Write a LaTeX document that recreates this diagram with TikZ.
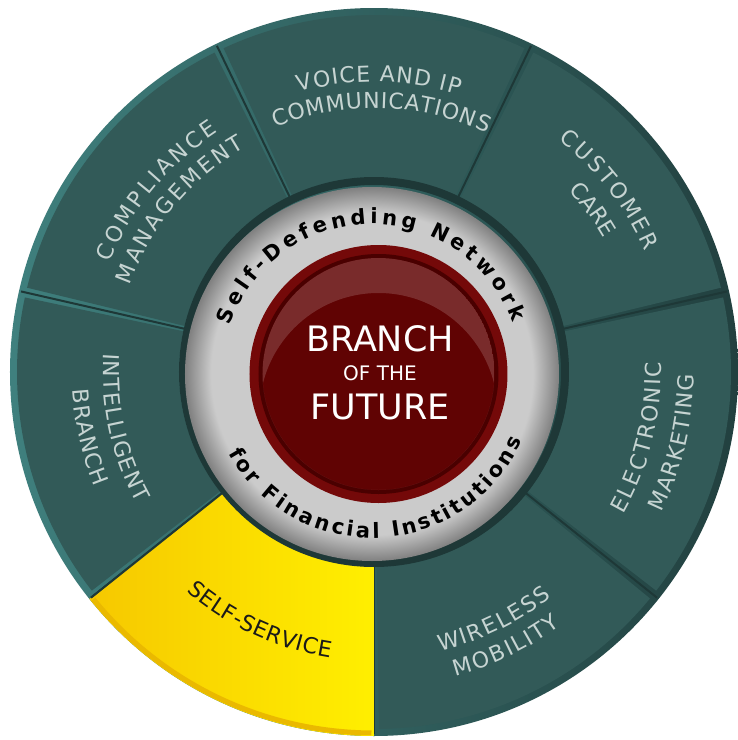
\documentclass[tikz,border=0pt]{standalone}
\usepackage{fontspec}
\setmainfont{DejaVu Sans}
\usetikzlibrary{positioning,decorations.text}

\definecolor{rimlight}{HTML}{3F807E}
\definecolor{rimdark}{HTML}{22403F}
\definecolor{segteal}{HTML}{325A58}
\definecolor{gapteal}{HTML}{1E3837}
\definecolor{labelgrey}{HTML}{C6D4D2}
\definecolor{ringgrey}{HTML}{CBCBCB}
\definecolor{ringedge}{HTML}{808080}
\definecolor{hubrim}{HTML}{740909}
\definecolor{hubdark}{HTML}{4A0000}
\definecolor{hubred}{HTML}{600303}
\definecolor{yelleft}{HTML}{F6C800}
\definecolor{yelright}{HTML}{FFEF00}
\definecolor{yelrim}{HTML}{EAB900}
\definecolor{selfink}{HTML}{1A1A1A}

\pgfdeclareradialshading{greyring}{\pgfpoint{0bp}{0bp}}{color(0bp)=(ringgrey); color(21.5bp)=(ringgrey); color(25bp)=(ringedge); color(50bp)=(ringedge)}

\begin{document}
\begin{tikzpicture}[x=1pt,y=1pt,
	seglabel/.style={decorate, decoration={text along path, text align={fit to path}, text color=labelgrey, text={|\fontsize{22}{26}\selectfont|#1}}},
	ringlabel/.style={decorate, decoration={text along path, text align={fit to path}, text color=black, text={|\fontsize{21}{25}\selectfont\bfseries|#1}}},
	hubtext/.style={text=white, inner sep=0pt}]
	
	\useasboundingbox (-374,-368) rectangle (364,372);
	
	% aussenrand
	\shade[left color=rimlight, right color=rimdark] (0,0) circle (364);
	
	% segmente
	\foreach \k in {0,...,5}{
		\pgfmathsetmacro\sa{270+\k*360/7+0.8}
		\pgfmathsetmacro\ea{270+(\k+1)*360/7-0.8}
		\fill[segteal] (\sa:195) arc[start angle=\sa, end angle=\ea, radius=195] -- (\ea:357) arc[start angle=\ea, end angle=\sa, radius=357] -- cycle;
	}
	\foreach \k in {0,...,6}
		\draw[gapteal, line width=2pt] (270+\k*360/7:192) -- (270+\k*360/7:362);
	
	% self-service
	\shade[left color=yelleft, right color=yelright] (218.57:190) arc[start angle=218.57, end angle=270, radius=190] -- (270:364) arc[start angle=270, end angle=218.57, radius=364] -- cycle;
	\draw[yelrim, line width=5pt] (219:361) arc[start angle=219, end angle=269.6, radius=361];
	\draw[gapteal, line width=2pt] (218.57:192) -- (218.57:362);
	
	% grauer ring
	\draw[gapteal, line width=8pt] (0,0) circle (191);
	\shade[shading=greyring] (-2,-2) circle (187);
	
	% roter knopf
	\fill[hubrim] (4.5,-2) circle (129);
	\fill[hubdark] (4.5,-2) circle (120);
	\fill[hubred] (4.5,-2) circle (116);
	\begin{scope}
		\clip (4.5,-2) circle (116);
		\fill[white, opacity=.16, even odd rule] (4.5,-2) circle (116) (4.5,-40) circle (119);
	\end{scope}
	
	% ringtexte
	\path[ringlabel=Self-Defending Network] (-2,-2) ++(161:150) arc[start angle=161, end angle=20, radius=150];
	\path[ringlabel=for Financial Institutions] (-2,-2) ++(209:164) arc[start angle=209, end angle=336, radius=164];
	
	% mitte
	\node[hubtext, font=\fontsize{20}{24}\selectfont] (hubmid) at (6,-1.5) {OF THE};
	\node[hubtext, font=\fontsize{35}{40}\selectfont, above=14pt of hubmid] (hubtop) {BRANCH};
	\node[hubtext, font=\fontsize{35}{40}\selectfont, below=13pt of hubmid] (hubbot) {FUTURE};
	
	% beschriftung der segmente
	\path[seglabel=VOICE AND IP] (105:290) arc[start angle=105, end angle=73, radius=290];
	\path[seglabel=COMMUNICATIONS] (112:264) arc[start angle=112, end angle=64.7, radius=264];
	\path[seglabel=CUSTOMER] (51.5:297) arc[start angle=51.5, end angle=24, radius=297];
	\path[seglabel=CARE] (43:266) arc[start angle=43, end angle=30.5, radius=266];
	\path[seglabel=COMPLIANCE] (157.5:286) arc[start angle=157.5, end angle=123, radius=286];
	\path[seglabel=MANAGEMENT] (160.4:259) arc[start angle=160.4, end angle=119.8, radius=259];
	\path[seglabel=ELECTRONIC] (-29.7:287) arc[start angle=-29.7, end angle=2, radius=287];
	\path[seglabel=MARKETING] (-26:320) arc[start angle=-26, end angle=-0.5, radius=320];
	\path[seglabel=WIRELESS] (283.3:287) arc[start angle=283.3, end angle=308.3, radius=287];
	\path[seglabel=MOBILITY] (285:315) arc[start angle=285, end angle=306.3, radius=315];
	\path[seglabel=INTELLIGENT] (176:271) arc[start angle=176, end angle=209, radius=271];
	\path[seglabel=BRANCH] (183.4:302) arc[start angle=183.4, end angle=202.4, radius=302];
	\path[seglabel=SELF-SERVICE, decoration={text color=selfink}] (229.5:289) arc[start angle=229.5, end angle=261.3, radius=289];
	
\end{tikzpicture}
\end{document}
